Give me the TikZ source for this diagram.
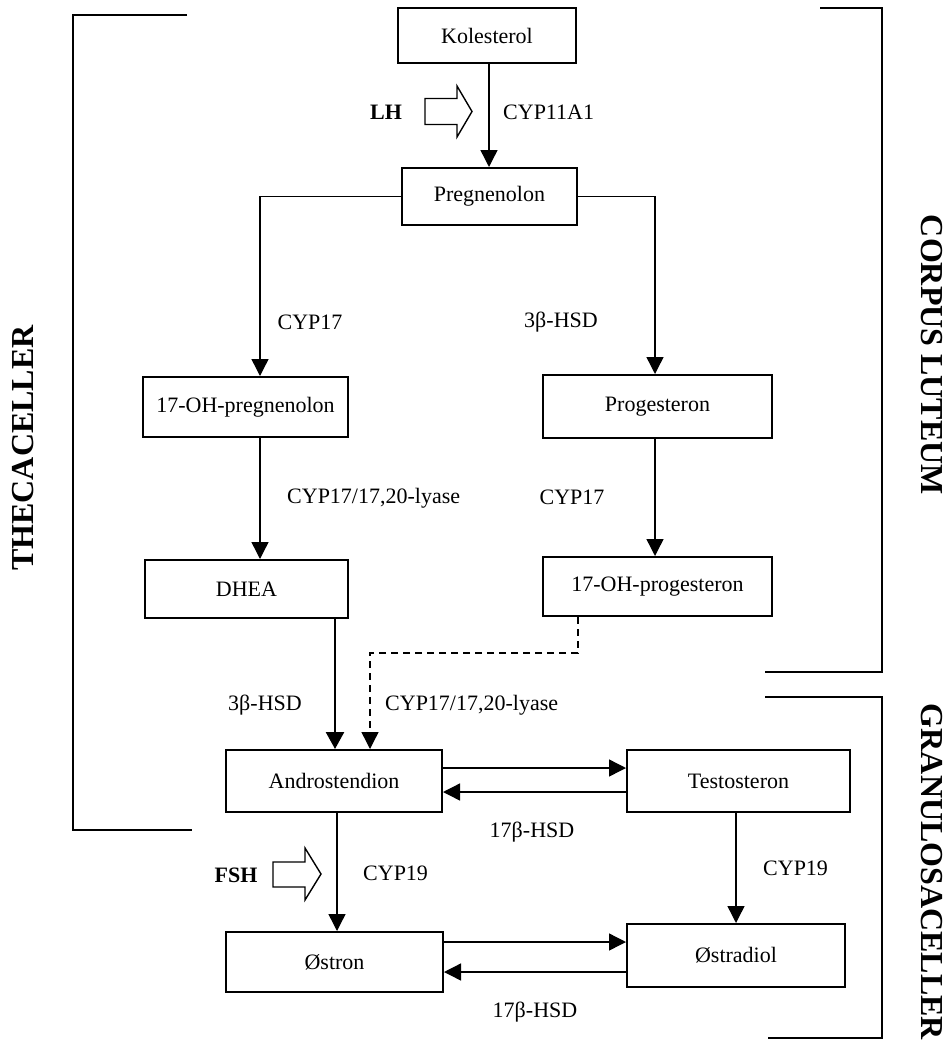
\documentclass[tikz,border=0pt]{standalone}
\usepackage{fontspec}
\setmainfont{Liberation Serif}
\usetikzlibrary{arrows.meta}
\begin{document}
\begin{tikzpicture}[x=1pt,y=-1pt,
  box/.style={draw, line width=2pt, inner sep=0pt, font=\fontsize{22}{26}\selectfont},
  lbl/.style={font=\fontsize{22}{26}\selectfont, inner sep=0pt},
  blbl/.style={font=\fontsize{22}{26}\selectfont\bfseries, inner sep=0pt},
  side/.style={font=\fontsize{32}{36}\selectfont\bfseries, inner sep=0pt},
  conn/.style={line width=1.4pt, -{Triangle[width=17pt,length=17pt]}},
  thickconn/.style={line width=2.6pt, -{Triangle[width=18pt,length=17pt]}},
  dashconn/.style={line width=1.4pt, dash pattern=on 7pt off 5pt, -{Triangle[width=17pt,length=17pt]}},
  brk/.style={line width=2.4pt},
  hollow/.style={line width=1.4pt, fill=white, line join=miter},
]
\fill[white] (0,0) rectangle (950,1044);
\useasboundingbox (0,0) rectangle (950,1044);

% boxes
\node[box, minimum width=178pt, minimum height=55pt] (kol) at (487,35.5) {Kolesterol};
\node[box, minimum width=175pt, minimum height=57pt] (preg) at (489.5,196.5) {Pregnenolon};
\node[box, minimum width=205pt, minimum height=60pt] (ohpreg) at (245.5,407) {17-OH-pregnenolon};
\node[box, minimum width=229pt, minimum height=63pt] (prog) at (657.5,406.5) {Progesteron};
\node[box, minimum width=203pt, minimum height=58pt] (dhea) at (246.5,589) {DHEA};
\node[box, minimum width=229pt, minimum height=59pt] (ohprog) at (657.5,586.5) {17-OH-progesteron};
\node[box, minimum width=216pt, minimum height=62pt] (andro) at (334,781) {Androstendion};
\node[box, minimum width=223pt, minimum height=62pt] (testo) at (738.5,781) {Testosteron};
\node[box, minimum width=217pt, minimum height=60pt] (ostron) at (334.5,962) {Østron};
\node[box, minimum width=218pt, minimum height=63pt] (ostradiol) at (736,955.5) {Østradiol};

% column / row helper coordinates
\coordinate (xK) at (489,0);
\coordinate (xL) at (260,0);
\coordinate (xR) at (655,0);
\coordinate (xA) at (335,0);
\coordinate (xE) at (370,0);
\coordinate (xO) at (337,0);
\coordinate (xT) at (736,0);
\coordinate (dk) at (578,653);
\coordinate (yAT) at (0,768);
\coordinate (yTA) at (0,792);
\coordinate (yOE) at (0,942);
\coordinate (yEO) at (0,972);

% connectors
\draw[conn] (kol.south -| xK) -- (preg.north -| xK);
\draw[conn] (preg.west) -| (ohpreg.north -| xL);
\draw[conn] (preg.east) -| (prog.north -| xR);
\draw[conn] (ohpreg.south -| xL) -- (dhea.north -| xL);
\draw[conn] (prog.south -| xR) -- (ohprog.north -| xR);
\draw[thickconn] (dhea.south -| xA) -- (andro.north -| xA);
\draw[dashconn] (ohprog.south -| dk) -- (dk) -| (andro.north -| xE);
\draw[conn] (andro.east |- yAT) -- (testo.west |- yAT);
\draw[conn] (testo.west |- yTA) -- (andro.east |- yTA);
\draw[conn] (andro.south -| xO) -- (ostron.north -| xO);
\draw[conn] (testo.south -| xT) -- (ostradiol.north -| xT);
\draw[conn] (ostron.east |- yOE) -- (ostradiol.west |- yOE);
\draw[conn] (ostradiol.west |- yEO) -- (ostron.east |- yEO);

% hollow hormone arrows
\draw[hollow] (425,98.5) -- (457,98.5) -- (457,86) -- (472,111.5) -- (457,137) -- (457,124.5) -- (425,124.5) -- cycle;
\draw[hollow] (273,862) -- (305,862) -- (305,848) -- (321,874) -- (305,900) -- (305,887) -- (273,887) -- cycle;

% labels
\node[blbl] (lh) at (386,112) {LH};
\node[lbl, anchor=west] (cyp11) at (503,112) {CYP11A1};
\node[lbl] (cyp17a) at (310,322) {CYP17};
\node[lbl] (hsd3a) at (561,322) {3β-HSD};
\node[lbl, anchor=west] (lyase1) at (287,498) {CYP17/17,20-lyase};
\node[lbl] (cyp17b) at (572,497) {CYP17};
\node[lbl] (hsd3b) at (265,705) {3β-HSD};
\node[lbl, anchor=west] (lyase2) at (385,705) {CYP17/17,20-lyase};
\node[lbl] (hsd17a) at (532,832) {17β-HSD};
\node[blbl] (fsh) at (236,875) {FSH};
\node[lbl, anchor=west] (cyp19a) at (363,873) {CYP19};
\node[lbl, anchor=west] (cyp19b) at (763,868) {CYP19};
\node[lbl] (hsd17b) at (535,1012) {17β-HSD};

% brackets
\draw[brk] (187,15) -- (73,15) -- (73,830) -- (192,830);
\draw[brk] (820,8) -- (882,8) -- (882,672) -- (765,672);
\draw[brk] (765,697) -- (882,697) -- (882,1038) -- (768,1038);

% side labels
\node[side, rotate=90] (theca) at (23,448) {THECACELLER};
\node[side, rotate=-90] (corpus) at (932,355) {CORPUS LUTEUM};
\node[side, rotate=-90] (granulosa) at (932,872) {GRANULOSACELLER};
\end{tikzpicture}
\end{document}
